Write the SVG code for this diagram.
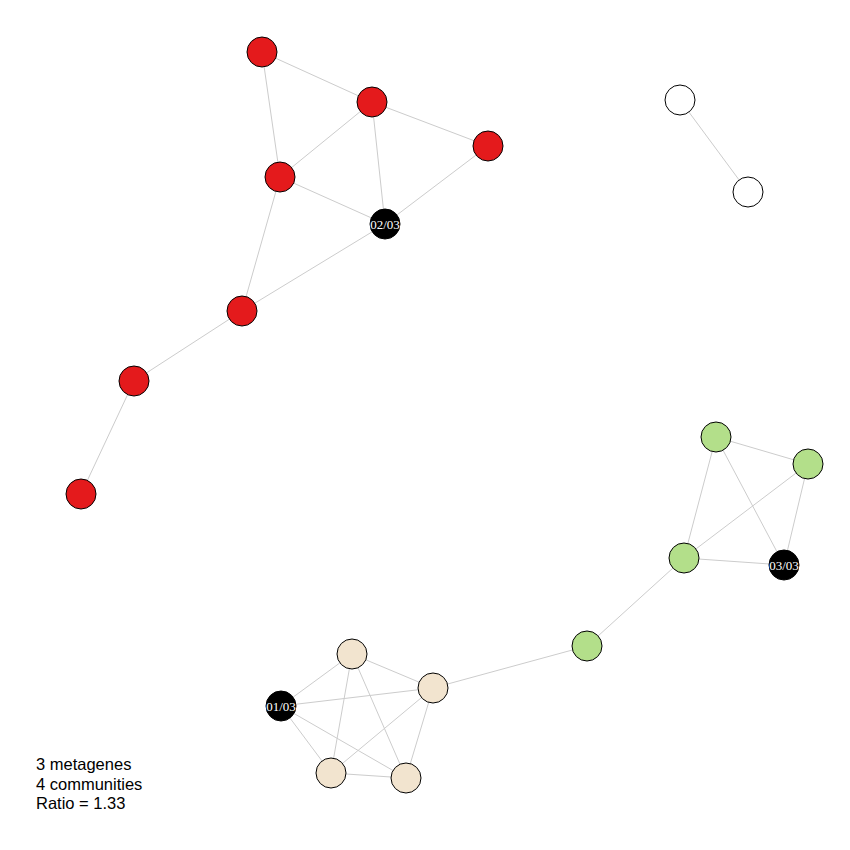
<svg xmlns="http://www.w3.org/2000/svg" width="850" height="850" viewBox="0 0 850 850">
<style>
.e{stroke:#cccccc;stroke-width:1;fill:none}
.n{stroke:#000;stroke-width:1}
.red{fill:#e41a1c}
.wh{fill:#fff}
.gr{fill:#b3df8a}
.be{fill:#f2e4cf}
.bk{fill:#000}
.lb{font-family:"Liberation Serif","Times New Roman",serif;font-size:13px;fill:#fff;text-anchor:middle}
.lg{font-family:"Liberation Sans",Arial,sans-serif;font-size:16.5px;fill:#000}
</style>
<rect width="850" height="850" fill="#fff"/>
<g id="edges">
<line class="e" x1="262" y1="52" x2="372" y2="102"/>
<line class="e" x1="262" y1="52" x2="280" y2="177"/>
<line class="e" x1="372" y1="102" x2="280" y2="177"/>
<line class="e" x1="372" y1="102" x2="385" y2="224"/>
<line class="e" x1="372" y1="102" x2="488" y2="146"/>
<line class="e" x1="488" y1="146" x2="385" y2="224"/>
<line class="e" x1="280" y1="177" x2="385" y2="224"/>
<line class="e" x1="280" y1="177" x2="242" y2="311"/>
<line class="e" x1="385" y1="224" x2="242" y2="311"/>
<line class="e" x1="242" y1="311" x2="134" y2="381"/>
<line class="e" x1="134" y1="381" x2="81" y2="494"/>
<line class="e" x1="680" y1="100" x2="748" y2="192"/>
<line class="e" x1="716" y1="437" x2="808" y2="464"/>
<line class="e" x1="716" y1="437" x2="684" y2="558"/>
<line class="e" x1="716" y1="437" x2="784" y2="565"/>
<line class="e" x1="808" y1="464" x2="684" y2="558"/>
<line class="e" x1="808" y1="464" x2="784" y2="565"/>
<line class="e" x1="684" y1="558" x2="784" y2="565"/>
<line class="e" x1="684" y1="558" x2="587" y2="646"/>
<line class="e" x1="587" y1="646" x2="433" y2="688"/>
<line class="e" x1="352" y1="654" x2="433" y2="688"/>
<line class="e" x1="352" y1="654" x2="281" y2="706"/>
<line class="e" x1="352" y1="654" x2="331" y2="773"/>
<line class="e" x1="352" y1="654" x2="406" y2="778"/>
<line class="e" x1="433" y1="688" x2="281" y2="706"/>
<line class="e" x1="433" y1="688" x2="331" y2="773"/>
<line class="e" x1="433" y1="688" x2="406" y2="778"/>
<line class="e" x1="281" y1="706" x2="331" y2="773"/>
<line class="e" x1="281" y1="706" x2="406" y2="778"/>
<line class="e" x1="331" y1="773" x2="406" y2="778"/>
</g>
<g id="n1"><circle class="n red" cx="262" cy="52" r="15"/></g>
<g id="n2"><circle class="n red" cx="372" cy="102" r="15"/></g>
<g id="n3"><circle class="n red" cx="488" cy="146" r="15"/></g>
<g id="n4"><circle class="n red" cx="280" cy="177" r="15"/></g>
<g id="n5"><circle class="n bk" cx="385" cy="224" r="15"/><text class="lb" x="385" y="228.5">02/03</text></g>
<g id="n6"><circle class="n red" cx="242" cy="311" r="15"/></g>
<g id="n7"><circle class="n red" cx="134" cy="381" r="15"/></g>
<g id="n8"><circle class="n red" cx="81" cy="494" r="15"/></g>
<g id="n9"><circle class="n wh" cx="680" cy="100" r="15"/></g>
<g id="n10"><circle class="n wh" cx="748" cy="192" r="15"/></g>
<g id="n11"><circle class="n gr" cx="716" cy="437" r="15"/></g>
<g id="n12"><circle class="n gr" cx="808" cy="464" r="15"/></g>
<g id="n13"><circle class="n gr" cx="684" cy="558" r="15"/></g>
<g id="n14"><circle class="n bk" cx="784" cy="565" r="15"/><text class="lb" x="784" y="569.5">03/03</text></g>
<g id="n15"><circle class="n gr" cx="587" cy="646" r="15"/></g>
<g id="n16"><circle class="n be" cx="352" cy="654" r="15"/></g>
<g id="n17"><circle class="n be" cx="433" cy="688" r="15"/></g>
<g id="n18"><circle class="n bk" cx="281" cy="706" r="15"/><text class="lb" x="281" y="710.5">01/03</text></g>
<g id="n19"><circle class="n be" cx="331" cy="773" r="15"/></g>
<g id="n20"><circle class="n be" cx="406" cy="778" r="15"/></g>
<g id="legend">
<text class="lg" x="36" y="770">3 metagenes</text>
<text class="lg" x="36" y="790">4 communities</text>
<text class="lg" x="36" y="809">Ratio = 1.33</text>
</g>
</svg>
